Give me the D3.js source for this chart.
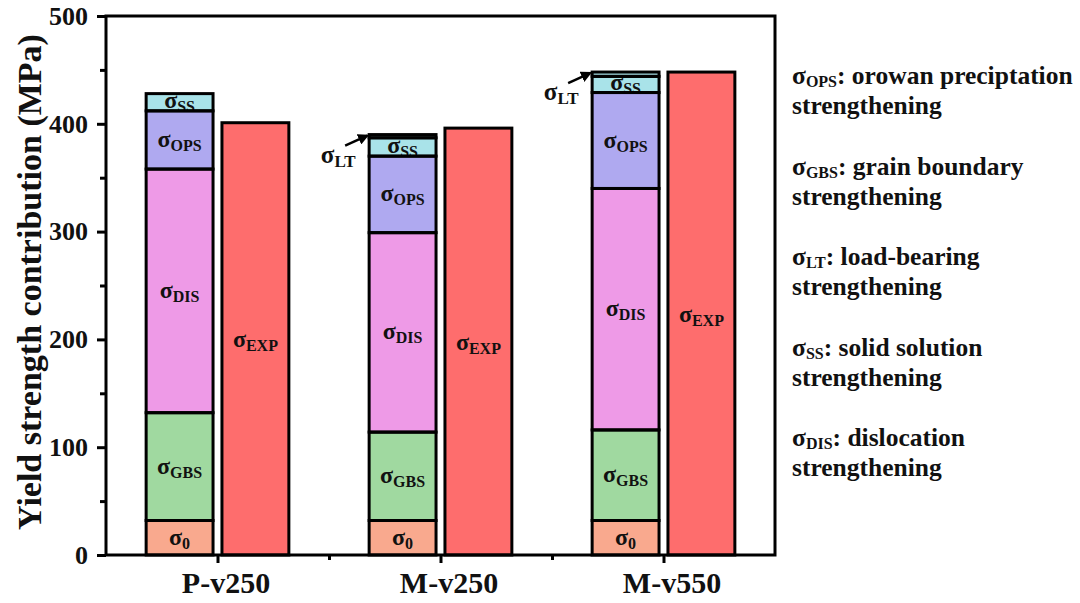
<!DOCTYPE html>
<html>
<head>
<meta charset="utf-8">
<script src="https://cdn.jsdelivr.net/npm/d3@7/dist/d3.min.js"></script>
<style>
  html, body { margin: 0; padding: 0; background: #fff; }
  svg { display: block; }
  text { font-family: "Liberation Serif", "Times New Roman", serif; font-weight: bold; fill: #111; }
</style>
</head>
<body>
<svg id="chart" width="1080" height="603"></svg>
<script>
// Alloy conditions
const categories = ["P-v250", "M-v250", "M-v550"];

// Strengthening contributions (MPa), stacked bottom to top
const sigma0 = [32, 32, 32];
const sigmaGBS = [100, 82, 84];
const sigmaDIS = [226, 185, 224];
const sigmaOPS = [54, 71, 89];
const sigmaSS = [16, 17, 15];
const sigmaLT = [0, 3, 4];

// Measured (experimental) yield strength (MPa)
const sigmaEXP = [401, 396, 448];

// Axis ticks
const yMajorTicks = [0, 100, 200, 300, 400, 500];
const yMinorTicks = [50, 150, 250, 350, 450];

// Legend notes
const notes = [
  { sub: "OPS", text: ": orowan preciptation" },
  { sub: "GBS", text: ": grain boundary" },
  { sub: "LT", text: ": load-bearing" },
  { sub: "SS", text: ": solid solution" },
  { sub: "DIS", text: ": dislocation" }
];

const components = [
  { key: "s0", sub: "0", values: sigma0, color: "#F9A98E" },
  { key: "GBS", sub: "GBS", values: sigmaGBS, color: "#A0D9A0" },
  { key: "DIS", sub: "DIS", values: sigmaDIS, color: "#EE9AE7" },
  { key: "OPS", sub: "OPS", values: sigmaOPS, color: "#AFA9F0" },
  { key: "SS", sub: "SS", values: sigmaSS, color: "#A9E3E9" },
  { key: "LT", sub: "LT", values: sigmaLT, color: "#A9E3E9" }
];
const expColor = "#FE6D6D";

const svg = d3.select("#chart");
const plotL = 106, plotR = 775, plotT = 16, plotB = 555;

const x = d3.scaleLinear().domain([-0.5, categories.length - 0.5]).range([plotL, plotR]);
const y = d3.scaleLinear().domain([0, 500]).range([plotB, plotT]);

const barW = 0.3;      // bar width in category units
const offset = 0.17;   // half-distance between paired bars

// Stack table
const rows = categories.map((c, i) => {
  const r = { cat: c, i };
  components.forEach(k => r[k.key] = k.values[i]);
  return r;
});
const stack = d3.stack().keys(components.map(k => k.key));
const series = stack(rows);

const g = svg.append("g");

// Stacked fills
series.forEach((s, si) => {
  g.selectAll(null).data(s).enter().append("rect")
    .attr("x", d => x(d.data.i - offset - barW / 2))
    .attr("width", x(barW) - x(0))
    .attr("y", d => y(d[1]))
    .attr("height", d => y(d[0]) - y(d[1]))
    .attr("fill", components[si].color);
});

// Experimental bars fill
g.selectAll(null).data(sigmaEXP).enter().append("rect")
  .attr("x", (d, i) => x(i + offset - barW / 2))
  .attr("width", x(barW) - x(0))
  .attr("y", d => y(d))
  .attr("height", d => y(0) - y(d))
  .attr("fill", expColor);

// Sigma label helper
function sigmaLabel(sel, cx, by, sub, size, subSize) {
  const t = sel.append("text").attr("x", cx).attr("y", by).attr("text-anchor", "middle");
  t.append("tspan").text("σ").attr("font-size", size);
  t.append("tspan").text(sub).attr("font-size", subSize).attr("dy", 4);
  return t;
}

// Segment labels (load-bearing layer gets a callout instead)
series.forEach((s, si) => {
  const comp = components[si];
  if (comp.key === "LT") return;
  s.forEach(d => {
    const cx = x(d.data.i - offset);
    const mid = (y(d[0]) + y(d[1])) / 2;
    const by = comp.key === "SS" ? mid + 6 : mid + 7;
    sigmaLabel(g, cx, by, comp.sub, 24, 16);
  });
});

// Experimental labels
sigmaEXP.forEach((v, i) => {
  const mid = (y(0) + y(v)) / 2;
  sigmaLabel(g, x(i + offset), mid + 8, "EXP", 24, 16);
});

// Outlines drawn over fills and labels
series.forEach(s => {
  g.selectAll(null).data(s).enter().append("rect")
    .attr("x", d => x(d.data.i - offset - barW / 2))
    .attr("width", x(barW) - x(0))
    .attr("y", d => y(d[1]))
    .attr("height", d => y(d[0]) - y(d[1]))
    .attr("fill", "none").attr("stroke", "#000").attr("stroke-width", 3);
});
g.selectAll(null).data(sigmaEXP).enter().append("rect")
  .attr("x", (d, i) => x(i + offset - barW / 2))
  .attr("width", x(barW) - x(0))
  .attr("y", d => y(d))
  .attr("height", d => y(0) - y(d))
  .attr("fill", "none").attr("stroke", "#000").attr("stroke-width", 3);

// Load-bearing callouts
svg.append("defs").append("marker")
  .attr("id", "arrow").attr("viewBox", "0 0 10 10")
  .attr("refX", 8).attr("refY", 5)
  .attr("markerWidth", 4.5).attr("markerHeight", 4.5)
  .attr("orient", "auto")
  .append("path").attr("d", "M0,0 L10,5 L0,10 Z").attr("fill", "#000");

const ltSeries = series[components.findIndex(k => k.key === "LT")];
ltSeries.forEach(d => {
  if (d[1] - d[0] <= 0) return;
  const hx = x(d.data.i - offset - barW / 2) - 2;
  const hy = y(d[1]) + 1;
  g.append("line")
    .attr("x1", hx - 22).attr("y1", hy + 10)
    .attr("x2", hx).attr("y2", hy)
    .attr("stroke", "#000").attr("stroke-width", 2.5)
    .attr("marker-end", "url(#arrow)");
  sigmaLabel(g, hx - 29, hy + 27, "LT", 25, 17);
});

// Axes
const axes = svg.append("g");
const yAxis = axes.append("g").attr("transform", `translate(${plotL},0)`)
  .call(d3.axisLeft(y).tickValues(yMajorTicks).tickSize(9).tickPadding(9).tickFormat(d3.format("d")));
const yMinor = axes.append("g").attr("transform", `translate(${plotL},0)`)
  .call(d3.axisLeft(y).tickValues(yMinorTicks).tickSize(6).tickFormat(""));
const xAxis = axes.append("g").attr("transform", `translate(0,${plotB})`)
  .call(d3.axisBottom(x).tickValues(categories.map((c, i) => i)).tickSize(8).tickPadding(9)
    .tickFormat(i => categories[i]));
const xMinor = axes.append("g").attr("transform", `translate(0,${plotB})`)
  .call(d3.axisBottom(x).tickValues(d3.range(0.5, categories.length - 1, 1)).tickSize(5).tickFormat(""));

axes.selectAll(".domain").remove();
axes.selectAll(".tick line").attr("stroke", "#000").attr("stroke-width", 3);
yAxis.selectAll(".tick text").attr("font-size", 26).attr("fill", "#111");
xAxis.selectAll(".tick text").attr("font-size", 30).attr("fill", "#111").attr("dx", 8);

// Frame
axes.append("rect")
  .attr("x", plotL).attr("y", plotT)
  .attr("width", plotR - plotL).attr("height", plotB - plotT)
  .attr("fill", "none").attr("stroke", "#000").attr("stroke-width", 3);

// Y title
svg.append("text")
  .attr("transform", `translate(41,282) rotate(-90)`)
  .attr("text-anchor", "middle")
  .attr("font-size", 34)
  .text("Yield strength contribution (MPa)");

// Notes on the right
const notesG = svg.append("g");
notes.forEach((n, i) => {
  const by = 84 + i * 90.5;
  const t = notesG.append("text").attr("x", 792).attr("y", by).attr("font-size", 25.5);
  t.append("tspan").text("σ");
  t.append("tspan").text(n.sub).attr("font-size", 16).attr("dy", 3);
  t.append("tspan").text(n.text).attr("dy", -3);
  notesG.append("text").attr("x", 792).attr("y", by + 30).attr("font-size", 25.5).text("strengthening");
});
</script>
</body>
</html>
